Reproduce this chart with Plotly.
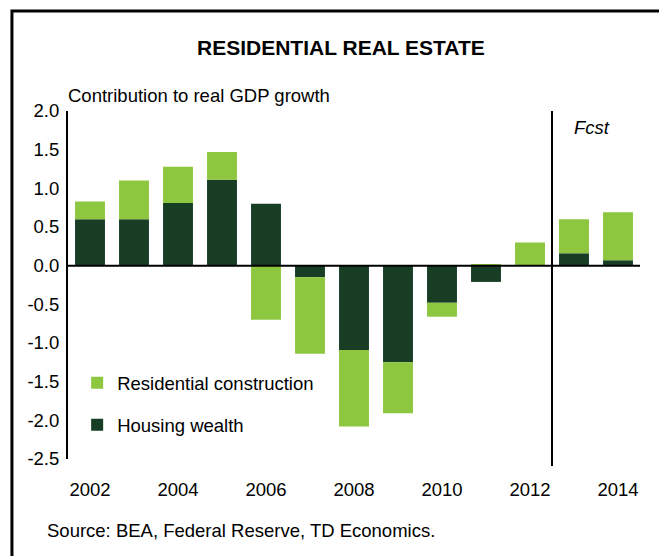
import plotly.graph_objects as go

years = [2002, 2003, 2004, 2005, 2006, 2007, 2008, 2009, 2010, 2011, 2012, 2013, 2014]
housing_wealth = [0.60, 0.60, 0.81, 1.11, 0.80, -0.15, -1.09, -1.25, -0.48, -0.21, 0.0, 0.16, 0.07]
residential_construction = [0.23, 0.50, 0.47, 0.36, -0.70, -0.99, -0.99, -0.66, -0.18, 0.02, 0.30, 0.44, 0.62]
y_ticks = [-2.5, -2.0, -1.5, -1.0, -0.5, 0.0, 0.5, 1.0, 1.5, 2.0]
x_ticks = [2002, 2004, 2006, 2008, 2010, 2012, 2014]

DARK = "#173d25"
LIGHT = "#8dc63f"
FONT = "Liberation Sans, Arial, sans-serif"
FS = 18.5

fig = go.Figure()
fig.add_trace(go.Bar(x=years, y=housing_wealth, name="Housing wealth",
                     marker=dict(color=DARK, line=dict(width=0)), width=0.68,
                     legend="legend2"))
fig.add_trace(go.Bar(x=years, y=residential_construction, name="Residential construction",
                     marker=dict(color=LIGHT, line=dict(width=0)), width=0.68,
                     legend="legend"))

fig.update_layout(
    width=659, height=548,
    margin=dict(l=60, r=27, t=103, b=97),
    paper_bgcolor="white", plot_bgcolor="white",
    barmode="relative",
    font=dict(family=FONT, size=FS, color="black"),
    xaxis=dict(range=[2001.5, 2014.5], tickvals=x_ticks, ticktext=[str(v) for v in x_ticks],
               showgrid=False, zeroline=False, showline=False, ticks="",
               ticklabelstandoff=17, tickfont=dict(size=FS)),
    yaxis=dict(range=[-2.5, 2.0], tickvals=y_ticks, ticktext=[f"{v:.1f}" for v in y_ticks],
               showgrid=False, zeroline=False, showline=True, linecolor="black", linewidth=2,
               ticks="", ticklabelstandoff=3, tickfont=dict(size=FS)),
    legend=dict(x=0.016, y=0.218, xanchor="left", yanchor="middle", bgcolor="rgba(0,0,0,0)",
                font=dict(size=FS), itemclick=False),
    legend2=dict(x=0.016, y=0.097, xanchor="left", yanchor="middle", bgcolor="rgba(0,0,0,0)",
                 font=dict(size=FS), itemclick=False),
    showlegend=True,
)

# zero line across the bars
fig.add_shape(type="line", xref="paper", yref="y", x0=0, x1=1, y0=0, y1=0,
              line=dict(color="black", width=2), layer="above")
# forecast divider
fig.add_shape(type="line", xref="x", yref="paper", x0=2012.5, x1=2012.5, y0=-0.02, y1=1.0,
              line=dict(color="black", width=2), layer="above")
# outer frame
fig.add_shape(type="rect", xref="paper", yref="paper", x0=-0.098, x1=1.1, y0=-0.35, y1=1.287,
              line=dict(color="black", width=3), fillcolor="rgba(0,0,0,0)", layer="above")

fig.add_annotation(text="<b>RESIDENTIAL REAL ESTATE</b>", xref="paper", yref="paper",
                   x=(341 - 68) / 572, y=(459 - 47) / 348, xanchor="center", yanchor="middle",
                   showarrow=False, font=dict(size=21))
fig.add_annotation(text="Contribution to real GDP growth", xref="paper", yref="paper",
                   x=0, y=(459 - 95) / 348, xanchor="left", yanchor="middle", xshift=-2,
                   showarrow=False, font=dict(size=FS))
fig.add_annotation(text="<i>Fcst</i>", xref="x", yref="paper", x=2013.4,
                   y=(459 - 127) / 348, xanchor="center", yanchor="middle",
                   showarrow=False, font=dict(size=FS))
fig.add_annotation(text="Source: BEA, Federal Reserve, TD Economics.", xref="paper", yref="paper",
                   x=(45 - 68) / 572, y=(459 - 530) / 348, xanchor="left", yanchor="middle",
                   showarrow=False, font=dict(size=FS))

fig.write_html("out.html")
